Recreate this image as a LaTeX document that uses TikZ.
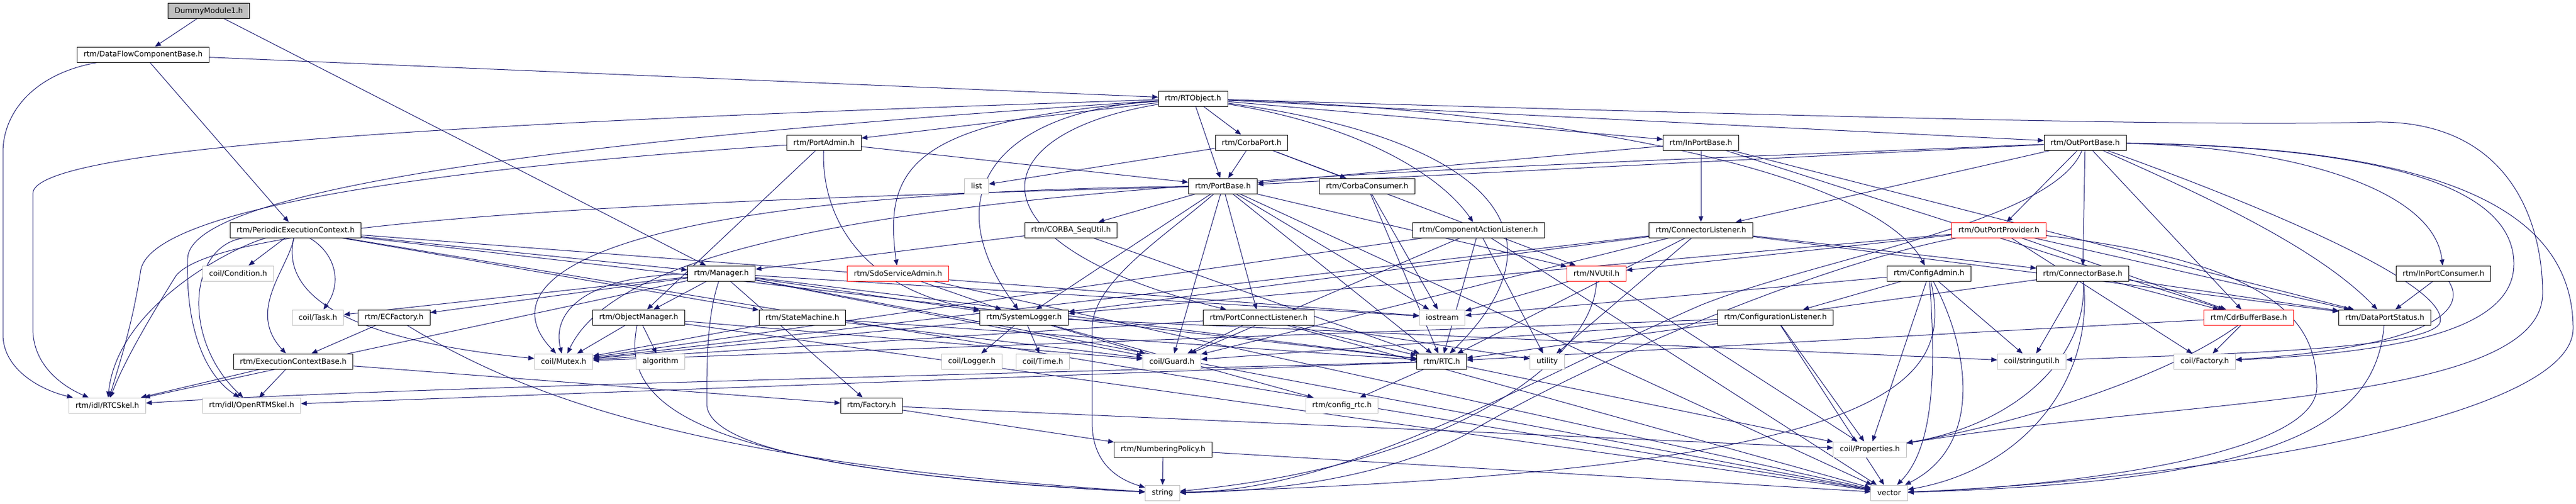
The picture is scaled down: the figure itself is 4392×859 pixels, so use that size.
\documentclass[tikz,border=0pt]{standalone}
\usepackage{fontspec}
\setmainfont{DejaVu Sans}
\usetikzlibrary{arrows.meta}
\definecolor{edgeblue}{HTML}{191970}
\definecolor{sysgray}{HTML}{BFBFBF}
\pgfdeclarelayer{bg}
\pgfsetlayers{bg,main}

\tikzstyle{hdr}=[draw=black, fill=white, line width=1pt, minimum height=26pt, inner xsep=11pt, inner ysep=0pt, font=\fontsize{12.7}{15}\selectfont]
\tikzstyle{mainhdr}=[hdr, fill=sysgray]
\tikzstyle{syshdr}=[hdr, draw=sysgray]
\tikzstyle{cuthdr}=[hdr, draw=red]
\tikzstyle{dep}=[draw=edgeblue, line width=1pt, -{Triangle[length=10pt,width=8pt]}]

\begin{document}
\begin{tikzpicture}[x=1pt, y=-1pt]
    \useasboundingbox (0,0) rectangle (4392,859);

    \node[mainhdr] (dummy)       at (356, 18.5) {DummyModule1.h};
    \node[hdr]     (dfcb)        at (244, 93)   {rtm/DataFlowComponentBase.h};
    \node[hdr]     (rtobj)       at (2034, 168) {rtm/RTObject.h};
    \node[hdr]     (portadmin)   at (1405, 243) {rtm/PortAdmin.h};
    \node[hdr]     (corbaport)   at (2134, 243) {rtm/CorbaPort.h};
    \node[hdr]     (inportbase)  at (2900, 243) {rtm/InPortBase.h};
    \node[hdr]     (outportbase) at (3555, 243) {rtm/OutPortBase.h};
    \node[syshdr]  (list)        at (1665, 317) {list};
    \node[hdr]     (portbase)    at (2085, 317) {rtm/PortBase.h};
    \node[hdr]     (corbacons)   at (2331, 317) {rtm/CorbaConsumer.h};
    \node[hdr]     (pec)         at (504, 392)  {rtm/PeriodicExecutionContext.h};
    \node[hdr]     (sequtil)     at (1826, 392) {rtm/CORBA\_SeqUtil.h};
    \node[hdr]     (calis)       at (2521, 392) {rtm/ComponentActionListener.h};
    \node[hdr]     (conlis)      at (2900, 392) {rtm/ConnectorListener.h};
    \node[cuthdr]  (opprov)      at (3408, 392) {rtm/OutPortProvider.h};
    \node[syshdr]  (cond)        at (406, 466)  {coil/Condition.h};
    \node[hdr]     (manager)     at (1230, 466) {rtm/Manager.h};
    \node[cuthdr]  (sdoadmin)    at (1531, 466) {rtm/SdoServiceAdmin.h};
    \node[cuthdr]  (nvutil)      at (2722, 466) {rtm/NVUtil.h};
    \node[hdr]     (cfgadmin)    at (3289, 466) {rtm/ConfigAdmin.h};
    \node[hdr]     (conbase)     at (3551, 466) {rtm/ConnectorBase.h};
    \node[hdr]     (ipcons)      at (4166, 466) {rtm/InPortConsumer.h};
    \node[syshdr]  (task)        at (542, 541)  {coil/Task.h};
    \node[hdr]     (ecfac)       at (672, 541)  {rtm/ECFactory.h};
    \node[hdr]     (objmgr)      at (1089, 541) {rtm/ObjectManager.h};
    \node[hdr]     (statem)      at (1368, 541) {rtm/StateMachine.h};
    \node[hdr]     (syslog)      at (1746, 541) {rtm/SystemLogger.h};
    \node[hdr]     (pclis)       at (2146, 541) {rtm/PortConnectListener.h};
    \node[syshdr]  (iostream)    at (2459, 541) {iostream};
    \node[hdr]     (cfglis)      at (3027, 541) {rtm/ConfigurationListener.h};
    \node[cuthdr]  (cdrbuf)      at (3834, 541) {rtm/CdrBufferBase.h};
    \node[hdr]     (dpstat)      at (4066, 541) {rtm/DataPortStatus.h};
    \node[hdr]     (ecbase)      at (500, 616)  {rtm/ExecutionContextBase.h};
    \node[syshdr]  (mutex)       at (961, 616)  {coil/Mutex.h};
    \node[syshdr]  (algo)        at (1126, 616) {algorithm};
    \node[syshdr]  (logger)      at (1657, 616) {coil/Logger.h};
    \node[syshdr]  (time)        at (1778, 616) {coil/Time.h};
    \node[syshdr]  (guard)       at (1998, 616) {coil/Guard.h};
    \node[hdr]     (rtc)         at (2458, 616) {rtm/RTC.h};
    \node[syshdr]  (utility)     at (2638, 616) {utility};
    \node[syshdr]  (strutil)     at (3464, 616) {coil/stringutil.h};
    \node[syshdr]  (cfactory)    at (3759, 616) {coil/Factory.h};
    \node[syshdr]  (rtcskel)     at (183, 691)  {rtm/idl/RTCSkel.h};
    \node[syshdr]  (ortmskel)    at (429, 691)  {rtm/idl/OpenRTMSkel.h};
    \node[hdr]     (factory)     at (1486, 691) {rtm/Factory.h};
    \node[syshdr]  (configrtc)   at (2288, 691) {rtm/config\_rtc.h};
    \node[hdr]     (numpol)      at (1983, 766) {rtm/NumberingPolicy.h};
    \node[syshdr]  (props)       at (3188, 766) {coil/Properties.h};
    \node[syshdr]  (string)      at (1982, 840) {string};
    \node[syshdr]  (vector)      at (3221, 840) {vector};

    \begin{pgfonlayer}{bg}
    \draw[dep] (dummy) -- (dfcb);
    \draw[dep] (dummy) -- (manager);
    \draw[dep] (dfcb) -- (rtobj);
    \draw[dep] (dfcb) -- (pec);
    \draw[dep] (dfcb) .. controls (60,125) and (5,190) .. (5,260) -- (5,570) .. controls (5,630) and (70,665) .. (rtcskel);
    \draw[dep] (rtobj) -- (portadmin);
    \draw[dep] (rtobj) -- (corbaport);
    \draw[dep] (rtobj) -- (portbase);
    \draw[dep] (rtobj) -- (inportbase);
    \draw[dep] (rtobj) -- (outportbase);
    \draw[dep] (rtobj) .. controls (900,205) and (56,245) .. (56,330) -- (56,560) .. controls (56,625) and (110,660) .. (rtcskel);
    \draw[dep] (rtobj) .. controls (1000,235) and (325,320) .. (320,440) .. controls (316,560) and (350,640) .. (ortmskel);
    \draw[dep] (rtobj) .. controls (1560,205) and (1505,280) .. (sdoadmin);
    \draw[dep] (rtobj) .. controls (1700,190) and (1590,330) .. (syslog);
    \draw[dep] (rtobj) .. controls (1660,230) and (1650,420) .. (pclis);
    \draw[dep] (rtobj) .. controls (2300,210) and (2450,290) .. (calis);
    \draw[dep] (rtobj) .. controls (2500,230) and (2700,380) .. (rtc);
    \draw[dep] (rtobj) .. controls (2700,190) and (3200,300) .. (cfgadmin);
    \draw[dep] (rtobj) .. controls (3300,205) and (3800,215) .. (4050,208) .. controls (4280,205) and (4335,380) .. (4335,500) .. controls (4335,690) and (3700,680) .. (props);
    \draw[dep] (portadmin) -- (portbase);
    \draw[dep] (portadmin) -- (objmgr);
    \draw[dep] (portadmin) .. controls (1400,350) and (1450,490) .. (syslog);
    \draw[dep] (portadmin) .. controls (700,290) and (260,360) .. (240,460) .. controls (225,560) and (200,630) .. (rtcskel);
    \draw[dep] (corbaport) -- (list);
    \draw[dep] (corbaport) -- (portbase);
    \draw[dep] (corbaport) -- (corbacons);
    \draw[dep] (corbaport) -- (nvutil);
    \draw[dep] (inportbase) -- (portbase);
    \draw[dep] (inportbase) -- (conlis);
    \draw[dep] (inportbase) -- (dpstat);
    \draw[dep] (inportbase) -- (cdrbuf);
    \draw[dep] (outportbase) -- (portbase);
    \draw[dep] (outportbase) -- (conlis);
    \draw[dep] (outportbase) -- (opprov);
    \draw[dep] (outportbase) -- (conbase);
    \draw[dep] (outportbase) -- (cdrbuf);
    \draw[dep] (outportbase) .. controls (3750,330) and (3950,420) .. (dpstat);
    \draw[dep] (outportbase) .. controls (3800,330) and (4180,480) .. (4160,550) .. controls (4140,600) and (3700,605) .. (strutil);
    \draw[dep] (outportbase) .. controls (3900,250) and (4150,320) .. (ipcons);
    \draw[dep] (outportbase) .. controls (4000,250) and (4286,300) .. (4286,450) .. controls (4286,560) and (4100,600) .. (cfactory);
    \draw[dep] (outportbase) .. controls (4100,250) and (4387,330) .. (4387,560) .. controls (4387,720) and (3700,820) .. (vector);
    \draw[dep] (outportbase) .. controls (3500,380) and (3100,440) .. (2900,520) .. controls (2600,650) and (2300,835) .. (string);
    \draw[dep] (outportbase) .. controls (2200,300) and (1100,320) .. (mutex);
    \draw[dep] (portbase) -- (sequtil);
    \draw[dep] (portbase) -- (syslog);
    \draw[dep] (portbase) -- (pclis);
    \draw[dep] (portbase) -- (rtc);
    \draw[dep] (portbase) -- (iostream);
    \draw[dep] (portbase) -- (guard);
    \draw[dep] (portbase) -- (nvutil);
    \draw[dep] (portbase) -- (vector);
    \draw[dep] (portbase) .. controls (1990,400) and (1862,480) .. (1862,560) -- (1862,720) .. controls (1862,785) and (1900,815) .. (string);
    \draw[dep] (portbase) .. controls (1200,340) and (380,370) .. (300,470) .. controls (250,550) and (210,620) .. (rtcskel);
    \draw[dep] (portbase) .. controls (1000,330) and (830,480) .. (mutex);
    \draw[dep] (corbacons) -- (iostream);
    \draw[dep] (corbacons) -- (rtc);
    \draw[dep] (pec) -- (cond);
    \draw[dep] (pec) -- (manager);
    \draw[dep] (pec) -- (statem);
    \draw[dep] (pec) -- (rtc);
    \draw[dep] (pec) -- (iostream);
    \draw[dep] (pec) -- (vector);
    \draw[dep] (pec) .. controls (570,430) and (585,480) .. (task);
    \draw[dep] (pec) .. controls (490,460) and (420,530) .. (ecbase);
    \draw[dep] (pec) .. controls (400,420) and (200,520) .. (rtcskel);
    \draw[dep] (pec) .. controls (320,420) and (310,580) .. (ortmskel);
    \draw[dep] (pec) .. controls (470,540) and (700,590) .. (mutex);
    \draw[dep] (sequtil) -- (rtc);
    \draw[dep] (sequtil) -- (manager);
    \draw[dep] (calis) -- (mutex);
    \draw[dep] (calis) -- (guard);
    \draw[dep] (calis) -- (rtc);
    \draw[dep] (calis) -- (utility);
    \draw[dep] (calis) -- (vector);
    \draw[dep] (conlis) -- (conbase);
    \draw[dep] (conlis) -- (rtc);
    \draw[dep] (conlis) -- (utility);
    \draw[dep] (conlis) -- (mutex);
    \draw[dep] (conlis) -- (guard);
    \draw[dep] (conlis) -- (syslog);
    \draw[dep] (conlis) -- (dpstat);
    \draw[dep] (opprov) -- (nvutil);
    \draw[dep] (opprov) -- (syslog);
    \draw[dep] (opprov) -- (cdrbuf);
    \draw[dep] (opprov) -- (dpstat);
    \draw[dep] (opprov) -- (cfactory);
    \draw[dep] (opprov) .. controls (3100,450) and (2700,620) .. (2500,740) .. controls (2350,820) and (2150,838) .. (string);
    \draw[dep] (opprov) .. controls (3900,450) and (3950,560) .. (3950,660) .. controls (3950,780) and (3500,830) .. (vector);
    \draw[dep] (manager) -- (task);
    \draw[dep] (manager) -- (ecfac);
    \draw[dep] (manager) -- (objmgr);
    \draw[dep] (manager) -- (factory);
    \draw[dep] (manager) -- (syslog);
    \draw[dep] (manager) -- (rtc);
    \draw[dep] (manager) -- (iostream);
    \draw[dep] (manager) -- (guard);
    \draw[dep] (manager) -- (vector);
    \draw[dep] (manager) -- (rtcskel);
    \draw[dep] (manager) .. controls (1000,470) and (940,530) .. (mutex);
    \draw[dep] (manager) .. controls (1205,540) and (1205,620) .. (1205,690) .. controls (1210,770) and (1500,815) .. (string);
    \draw[dep] (sdoadmin) -- (syslog);
    \draw[dep] (sdoadmin) -- (vector);
    \draw[dep] (nvutil) -- (iostream);
    \draw[dep] (nvutil) -- (props);
    \draw[dep] (nvutil) .. controls (2720,600) and (2500,790) .. (string);
    \draw[dep] (cfgadmin) -- (cfglis);
    \draw[dep] (cfgadmin) -- (props);
    \draw[dep] (cfgadmin) -- (strutil);
    \draw[dep] (cfgadmin) -- (iostream);
    \draw[dep] (cfgadmin) .. controls (3330,650) and (3250,800) .. (string);
    \draw[dep] (cfgadmin) .. controls (3300,620) and (3300,760) .. (vector);
    \draw[dep] (cfgadmin) .. controls (3360,600) and (3380,760) .. (vector);
    \draw[dep] (conbase) -- (strutil);
    \draw[dep] (conbase) -- (rtc);
    \draw[dep] (conbase) -- (cdrbuf);
    \draw[dep] (conbase) -- (dpstat);
    \draw[dep] (conbase) .. controls (3560,600) and (3450,720) .. (props);
    \draw[dep] (conbase) .. controls (3570,650) and (3450,800) .. (vector);
    \draw[dep] (ipcons) -- (dpstat);
    \draw[dep] (ipcons) .. controls (4215,540) and (4100,595) .. (cfactory);
    \draw[dep] (ecfac) -- (ecbase);
    \draw[dep] (ecfac) .. controls (900,680) and (1200,790) .. (string);
    \draw[dep] (objmgr) -- (mutex);
    \draw[dep] (objmgr) -- (algo);
    \draw[dep] (objmgr) -- (guard);
    \draw[dep] (objmgr) -- (vector);
    \draw[dep] (objmgr) .. controls (1060,680) and (1150,800) .. (string);
    \draw[dep] (statem) -- (mutex);
    \draw[dep] (statem) -- (rtc);
    \draw[dep] (statem) -- (guard);
    \draw[dep] (syslog) -- (logger);
    \draw[dep] (syslog) -- (time);
    \draw[dep] (syslog) -- (guard);
    \draw[dep] (syslog) -- (configrtc);
    \draw[dep] (syslog) -- (mutex);
    \draw[dep] (syslog) -- (strutil);
    \draw[dep] (pclis) -- (guard);
    \draw[dep] (pclis) -- (rtc);
    \draw[dep] (pclis) -- (mutex);
    \draw[dep] (pclis) -- (vector);
    \draw[dep] (pclis) -- (utility);
    \draw[dep] (cfglis) -- (props);
    \draw[dep] (cfglis) -- (vector);
    \draw[dep] (cfglis) -- (mutex);
    \draw[dep] (cfglis) -- (guard);
    \draw[dep] (cdrbuf) -- (cfactory);
    \draw[dep] (cdrbuf) -- (rtc);
    \draw[dep] (cdrbuf) .. controls (3700,640) and (3450,720) .. (props);
    \draw[dep] (dpstat) .. controls (4050,720) and (3900,820) .. (vector);
    \draw[dep] (ecbase) -- (rtcskel);
    \draw[dep] (ecbase) -- (ortmskel);
    \draw[dep] (ecbase) -- (factory);
    \draw[dep] (rtc) -- (configrtc);
    \draw[dep] (rtc) -- (props);
    \draw[dep] (rtc) -- (ortmskel);
    \draw[dep] (rtc) .. controls (1200,650) and (600,665) .. (rtcskel);
    \draw[dep] (factory) -- (numpol);
    \draw[dep] (factory) -- (props);
    \draw[dep] (numpol) -- (string);
    \draw[dep] (numpol) -- (vector);
    \end{pgfonlayer}
  \end{tikzpicture}
\end{document}
